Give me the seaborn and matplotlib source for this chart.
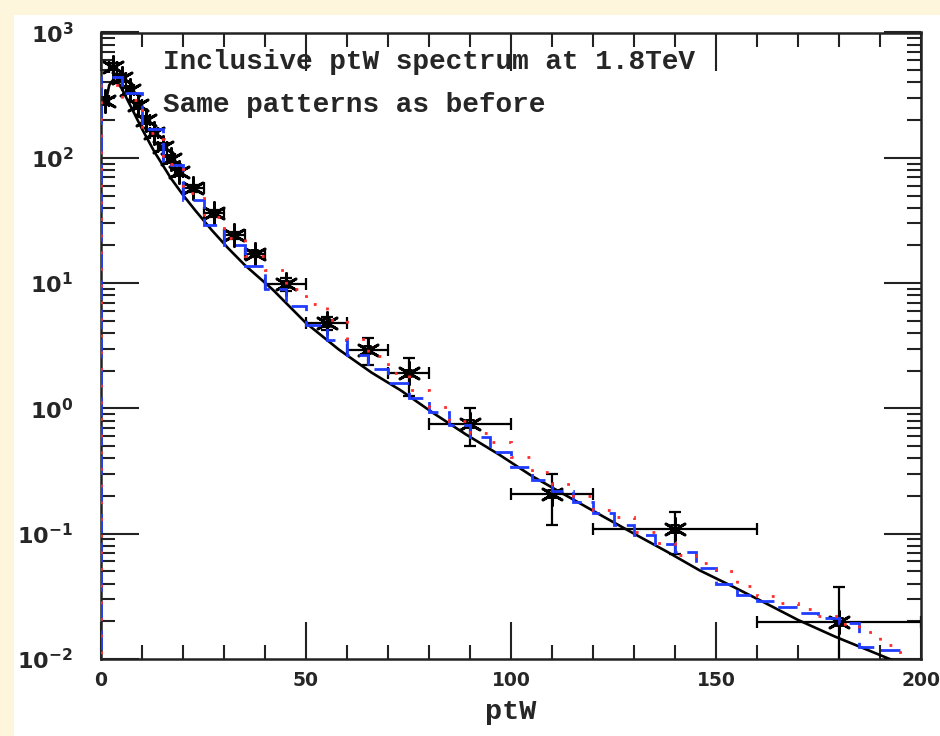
import numpy as np
import matplotlib
matplotlib.use("Agg")
import matplotlib.pyplot as plt
import seaborn as sns
from matplotlib.patches import Rectangle
from matplotlib.ticker import MultipleLocator, LogLocator, NullFormatter

# ---------------- data ----------------
data_pt = [1, 3, 5, 7, 9, 11, 13, 15, 17, 19, 22.5, 27.5, 32.5, 37.5,
           45, 55, 65, 75, 90, 110, 140, 180]
data_xerr = [1, 1, 1, 1, 1, 1, 1, 1, 1, 1, 2.5, 2.5, 2.5, 2.5,
             5, 5, 5, 5, 10, 10, 20, 20]
data_val = [284, 535, 434, 348, 264, 200, 159, 123, 98, 77, 57, 36, 24, 17.2,
            9.8, 4.8, 2.93, 1.9, 0.75, 0.207, 0.109, 0.0198]
data_yerr = [17, 32, 26, 21, 16, 12, 9.5, 7.4, 5.9, 4.6, 3.4, 2.2, 1.4, 1.0,
             1.2, 0.6, 0.7, 0.64, 0.25, 0.09, 0.04, 0.018]

curve_pt = [1, 2, 3, 4, 5, 6, 8, 10, 13, 15, 17, 20, 23, 27, 31, 35,
            42, 50, 58, 66, 73, 81, 89, 97, 105, 114, 122, 130, 138, 146, 154,
            162, 170, 179, 187, 193, 200]
curve_val = [260, 380, 420, 400, 360, 310, 230, 170, 112, 88, 69, 50.5,
             38, 26.5, 19, 14, 8.8, 4.8, 2.95, 1.93, 1.40, 0.92, 0.62, 0.43,
             0.29, 0.197, 0.14, 0.10, 0.072, 0.051, 0.038, 0.028, 0.0205,
             0.0151, 0.0118, 0.0098, 0.0078]

hist_edges = list(range(0, 205, 5))
blue_val = [440, 330, 170, 88, 46, 29, 20, 13.8, 9.0, 6.6,
            4.6, 3.5, 2.65, 2.05, 1.6, 1.22, 0.93, 0.74, 0.59, 0.45,
            0.34, 0.27, 0.22, 0.18, 0.146, 0.117, 0.098, 0.083, 0.072, 0.053,
            0.040, 0.0324, 0.029, 0.026, 0.0233, 0.0213, 0.0195, 0.0124, 0.0118, 0.005]
red_val = [380, 290, 157, 90, 52, 34, 23, 16.5, 12.8, 9.0,
           6.8, 5.1, 3.6, 2.6, 1.9, 1.4, 1.03, 0.8, 0.64, 0.54,
           0.41, 0.31, 0.25, 0.2, 0.155, 0.135, 0.104, 0.085, 0.068, 0.058,
           0.05, 0.038, 0.032, 0.028, 0.025, 0.022, 0.019, 0.0165, 0.013, 0.0095]

x_ticks = [0, 50, 100, 150, 200]
y_ticks = [1e-2, 1e-1, 1e0, 1e1, 1e2, 1e3]
y_tick_labels = [r'$\mathbf{10^{-2}}$', r'$\mathbf{10^{-1}}$', r'$\mathbf{10^{0}}$',
                 r'$\mathbf{10^{1}}$', r'$\mathbf{10^{2}}$', r'$\mathbf{10^{3}}$']
title_lines = ["Inclusive ptW spectrum at 1.8TeV", "Same patterns as before"]
x_label = "ptW"

# ---------------- style ----------------
sns.set_theme(style="ticks")
plt.rcParams['font.family'] = ['DejaVu Sans']
plt.rcParams['mathtext.fontset'] = 'dejavusans'

fig = plt.figure(figsize=(9.4, 7.36), dpi=100, facecolor='#fdf5dc')
fig.patches.append(Rectangle((14 / 940, 0), 1, 1 - 15 / 736,
                             transform=fig.transFigure, facecolor='white',
                             edgecolor='none', zorder=-10))
ax = fig.add_axes([101 / 940, 1 - 659 / 736, 820 / 940, 626.5 / 736])
ax.set_facecolor('white')

# data points with error bars
ax.errorbar(data_pt, data_val, xerr=data_xerr, yerr=data_yerr, fmt='none',
            ecolor='black', elinewidth=1.6, capsize=4.5, capthick=1.6, zorder=2)
sns.scatterplot(x=data_pt, y=data_val, marker=(6, 2, 0), s=250, color='black',
                linewidth=2.0, ax=ax, zorder=2.1)
sns.scatterplot(x=data_pt, y=data_val, marker='s', s=28, facecolor='none',
                edgecolor='black', linewidth=1.4, ax=ax, zorder=2.2)

# theory curve
sns.lineplot(x=curve_pt, y=curve_val, color='black', linewidth=1.9, ax=ax,
             zorder=3, sort=False)

# histograms
ax.stairs(blue_val, hist_edges, baseline=1e-4, color='#1f3cff', linewidth=2.0,
          linestyle=(0, (7, 3.5)), zorder=4)
ax.stairs(red_val, hist_edges, baseline=1e-4, color='#ff2a2a', linewidth=2.0,
          linestyle=(0, (1, 5)), zorder=5)

ax.set_xscale('linear')
ax.set_yscale('log')
ax.set_xlim(0, 200)
ax.set_ylim(1e-2, 1e3)

ax.set_xticks(x_ticks)
ax.set_xticklabels([str(t) for t in x_ticks], fontsize=13.5, fontweight='bold')
ax.xaxis.set_minor_locator(MultipleLocator(10))
ax.set_yticks(y_ticks)
ax.set_yticklabels(y_tick_labels, fontsize=16)
ax.yaxis.set_minor_locator(LogLocator(base=10, subs=np.arange(2, 10)))
ax.yaxis.set_minor_formatter(NullFormatter())

ax.tick_params(which='major', direction='in', length=27, width=1.5,
               top=True, right=True, color='#222222')
ax.tick_params(which='minor', direction='in', length=10, width=1.5,
               top=True, right=True, color='#222222')
ax.tick_params(axis='x', which='major', pad=9)
ax.tick_params(axis='y', which='major', pad=20)

for sp in ax.spines.values():
    sp.set_linewidth(1.8)
    sp.set_color('#222222')

ax.set_xlabel(x_label, fontsize=20.5, fontweight='bold',
              family=['Liberation Mono', 'DejaVu Sans Mono'], labelpad=6)
ax.set_ylabel('')

ax.text(0.0756, 0.953, title_lines[0], transform=ax.transAxes, fontsize=20,
        fontweight='bold', family=['Liberation Mono', 'DejaVu Sans Mono'],
        va='center', ha='left', zorder=6)
ax.text(0.0756, 0.884, title_lines[1], transform=ax.transAxes, fontsize=20,
        fontweight='bold', family=['Liberation Mono', 'DejaVu Sans Mono'],
        va='center', ha='left', zorder=6)

fig.savefig('out.png', dpi=100, facecolor=fig.get_facecolor())
